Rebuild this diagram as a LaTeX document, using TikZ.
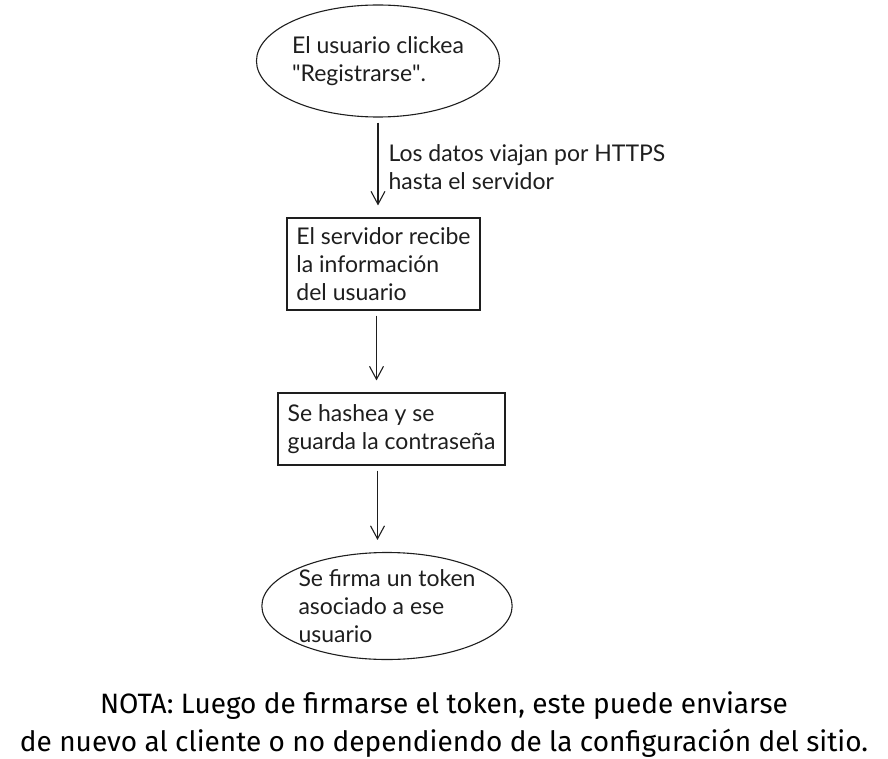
\documentclass[tikz,border=0pt]{standalone}
\usepackage{fontspec}
\setmainfont{Lato}
\newfontfamily\notefont{Fira Sans}
\definecolor{inkgray}{RGB}{30,30,30}
\usetikzlibrary{arrows.meta, positioning, shapes.geometric}

\begin{document}
\begin{tikzpicture}[x=1pt, y=1pt,
  flowstep/.style={draw=inkgray, line width=1.1pt, text=inkgray, font=\fontsize{23}{28}\selectfont, align=left},
  flowend/.style={flowstep, ellipse, inner sep=0pt},
  flowbox/.style={flowstep, rectangle, inner xsep=8pt, inner ysep=8pt},
  flowarrow/.style={draw=inkgray, line width=1.1pt, -{Straight Barb[length=13pt, width=14pt]}, shorten <=5pt, shorten >=12pt},
  flowlabel/.style={text=inkgray, font=\fontsize{23}{28}\selectfont, align=left, inner sep=0pt},
  notetext/.style={text=black, font=\notefont\fontsize{28}{38}\selectfont, align=center}]
\useasboundingbox (0,0) rectangle (888,-759);
\node[flowend, minimum width=224pt, minimum height=112pt] (click) at (378,-61) {El usuario clickea\\\textquotedbl Registrarse\textquotedbl.};
\node[flowbox, minimum width=193pt, minimum height=92pt] (serv) at (383.5,-264) {El servidor recibe\\la información\\del usuario};
\node[flowbox, minimum width=227pt, minimum height=72pt] (hash) at (391.5,-429) {Se hashea y se\\guarda la contraseña};
\node[flowend, minimum width=245pt, minimum height=107pt] (token) at (387,-606) {Se firma un token\\asociado a ese\\usuario};
\node[notetext] (nota) at (444,-725) {NOTA: Luego de firmarse el token, este puede enviarse\\de nuevo al cliente o no dependiendo de la configuración del sitio.};
% conectores
\draw[flowarrow] (click.south) -- (click.south |- serv.north) node[flowlabel, midway, right=10pt] (https) {Los datos viajan por HTTPS\\hasta el servidor};
\draw[flowarrow] ([xshift=-7pt]serv.south) -- ([xshift=-7pt]serv.south |- hash.north);
\draw[flowarrow] ([xshift=-14pt]hash.south) -- ([xshift=-14pt]hash.south |- token.north);
\end{tikzpicture}
\end{document}
